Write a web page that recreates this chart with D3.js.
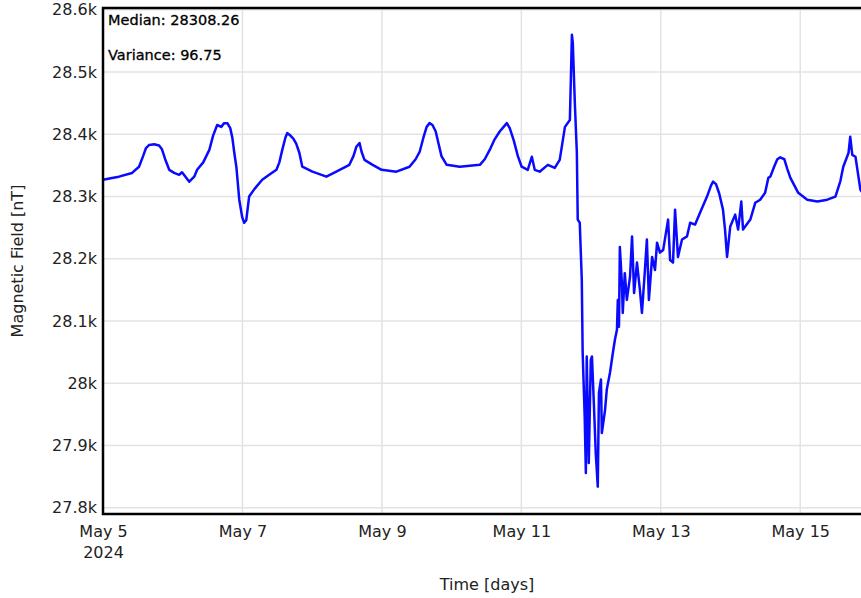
<!DOCTYPE html>
<html>
<head>
<meta charset="utf-8">
<script src="https://cdn.jsdelivr.net/npm/d3@7"></script>
<style>
  body { margin: 0; background: #fff; overflow: hidden; }
  svg { display: block; font-family: "DejaVu Sans", Verdana, sans-serif; }
</style>
</head>
<body>
<div id="chart"></div>
<script>
// --- Data (hours after May 5 2024 00:00 UTC, field in nT) ---
const startDate = Date.UTC(2024, 4, 5);
const hours = [
  0, 3.1, 5.5, 10.0, 12.4, 13.8, 14.8, 15.9, 17.6, 19.3, 20.3, 21.4, 22.8,
  24.5, 26.2, 27.2, 29.7, 31.4, 32.4, 34.5, 36.6, 37.9, 39.3, 40.7, 41.7, 42.8,
  43.8, 44.5, 45.2, 45.9, 46.9, 47.9, 48.6, 49.3, 50.3, 52.1, 54.8, 57.2, 59.7,
  60.7, 61.7, 62.8, 63.4, 64.5, 65.5, 66.5, 67.6, 68.6, 72.1, 76.9, 80.3, 84.8,
  86.2, 87.2, 88.3, 89.0, 90.0, 92.8, 95.9, 101.0, 105.5, 107.6, 109.0, 110.3, 111.4,
  112.4, 113.4, 114.5, 115.5, 116.5, 118.3, 122.8, 129.7, 131.4, 133.1, 134.8, 136.6, 137.9,
  139.0, 140.0, 141.4, 142.8, 144.1, 146.2, 147.6, 148.6, 150.3, 153.1, 155.5, 157.2, 159.0,
  160.7, 161.4, 161.7, 162.4, 163.1, 163.4, 164.1, 164.8, 165.1, 165.8, 166.2, 166.5, 167.2,
  167.9, 168.3, 168.9, 169.6, 170.3, 170.7, 171.4, 171.7, 172.8, 173.4, 174.5, 175.5, 176.2,
  176.9, 177.2, 177.6, 177.9, 178.6, 178.9, 179.6, 180.3, 181.4, 182.1, 182.8, 183.8, 184.8,
  185.5, 186.5, 187.2, 187.9, 189.0, 190.0, 190.7, 191.7, 192.8, 194.5, 195.2, 196.2, 196.9,
  197.9, 199.3, 201.0, 202.1, 203.8, 205.5, 207.9, 209.3, 210.0, 211.0, 212.1, 213.4, 214.1,
  214.8, 215.9, 217.6, 218.6, 219.7, 220.3, 222.8, 224.5, 226.2, 227.9, 229.0, 229.7, 231.0,
  232.1, 233.1, 234.5, 235.5, 236.6, 239.3, 242.4, 245.9, 249.3, 252.1, 253.8, 254.8, 256.6,
  257.2, 257.9, 259.0, 260.7, 264.0
];
const field = [
  28327, 28330, 28332, 28338, 28348, 28365, 28378, 28383, 28384, 28382, 28376, 28360, 28343,
  28338, 28335, 28339, 28324, 28332, 28343, 28355, 28375, 28398, 28415, 28412, 28418, 28418,
  28410, 28395, 28370, 28348, 28295, 28267, 28258, 28262, 28300, 28312, 28327, 28335, 28343,
  28355, 28375, 28395, 28402, 28398, 28393, 28385, 28370, 28348, 28340, 28332, 28340, 28351,
  28365, 28380, 28386, 28372, 28359, 28351, 28343, 28340, 28348, 28360, 28372, 28395, 28412,
  28418, 28415, 28405, 28385, 28365, 28351, 28348, 28351, 28360, 28375, 28392, 28405, 28412,
  28418, 28410, 28390, 28365, 28348, 28343, 28364, 28343, 28340, 28351, 28346, 28359, 28412,
  28423, 28560, 28547, 28451, 28370, 28263, 28258, 28166, 28049, 27946, 27856, 28043, 27872,
  28038, 28043, 27974, 27888, 27834, 27985, 28006, 27920, 27957, 27990, 28017, 28049, 28070,
  28086, 28134, 28091, 28219, 28161, 28113, 28177, 28134, 28171, 28236, 28145, 28194, 28150,
  28113, 28180, 28231, 28134, 28203, 28182, 28226, 28210, 28214, 28263, 28198, 28194, 28279,
  28203, 28231, 28236, 28258, 28255, 28274, 28300, 28318, 28324, 28320, 28305, 28279, 28247,
  28203, 28252, 28271, 28247, 28292, 28247, 28263, 28290, 28295, 28306, 28330, 28332, 28348,
  28360, 28363, 28360, 28345, 28330, 28306, 28295, 28292, 28295, 28300, 28325, 28348, 28370,
  28396, 28367, 28364, 28311, 28290
];
const yTicks = [27800, 27900, 28000, 28100, 28200, 28300, 28400, 28500, 28600];
const medianText = "Median: 28308.26";
const varianceText = "Variance: 96.75";

const data = hours.map((h, i) => ({ t: new Date(startDate + h * 3600e3), v: field[i] }));

// --- Layout ---
const W = 861, H = 598;
const margin = { left: 103, top: 8 };
const plotW = 767, plotH = 506;

const svg = d3.select("#chart").append("svg")
  .attr("width", W)
  .attr("height", H);

const x = d3.scaleUtc()
  .domain([new Date(startDate), new Date(startDate + 11 * 864e5)])
  .range([margin.left, margin.left + plotW]);

const y = d3.scaleLinear()
  .domain([27790, 28603])
  .range([margin.top + plotH, margin.top]);

// --- Grid ---
const grid = svg.append("g").attr("stroke", "#e3e3e3").attr("stroke-width", 1.5);
grid.selectAll("line.h")
  .data(yTicks)
  .enter().append("line")
  .attr("class", "h")
  .attr("x1", margin.left).attr("x2", margin.left + plotW)
  .attr("y1", d => y(d)).attr("y2", d => y(d));

const xTicks = x.ticks(d3.utcDay.every(2));
grid.selectAll("line.v")
  .data(xTicks.slice(1))
  .enter().append("line")
  .attr("class", "v")
  .attr("y1", margin.top).attr("y2", margin.top + plotH)
  .attr("x1", d => x(d)).attr("x2", d => x(d));

// --- Line ---
svg.append("clipPath").attr("id", "clip")
  .append("rect")
  .attr("x", margin.left).attr("y", margin.top)
  .attr("width", plotW).attr("height", plotH);

const line = d3.line()
  .x(d => x(d.t))
  .y(d => y(d.v));

svg.append("path")
  .datum(data)
  .attr("clip-path", "url(#clip)")
  .attr("fill", "none")
  .attr("stroke", "#0a0aff")
  .attr("stroke-width", 2.5)
  .attr("stroke-linejoin", "round")
  .attr("d", line);

// --- Border ---
svg.append("rect")
  .attr("x", margin.left).attr("y", margin.top)
  .attr("width", plotW).attr("height", plotH)
  .attr("fill", "none")
  .attr("stroke", "#000")
  .attr("stroke-width", 2.5);

// --- Axes ---
const yAxis = svg.append("g")
  .attr("transform", `translate(${margin.left},0)`)
  .call(d3.axisLeft(y).tickValues(yTicks).tickSize(0).tickPadding(6).tickFormat(d3.format("~s")));
yAxis.select(".domain").remove();
yAxis.selectAll("text")
  .attr("font-family", "DejaVu Sans, sans-serif")
  .attr("font-size", 16)
  .attr("fill", "#222");

const fmtDay = d3.utcFormat("%b %-d");
const xAxis = svg.append("g")
  .attr("transform", `translate(0,${margin.top + plotH})`)
  .call(d3.axisBottom(x).tickValues(xTicks).tickSize(0).tickPadding(8).tickFormat(""));
xAxis.select(".domain").remove();
xAxis.selectAll(".tick").each(function(d, i) {
  const t = d3.select(this).select("text")
    .attr("font-family", "DejaVu Sans, sans-serif")
    .attr("font-size", 16)
    .attr("fill", "#222")
    .attr("dy", null)
    .attr("y", 23);
  t.append("tspan").attr("x", 0).text(fmtDay(d));
  if (i === 0) t.append("tspan").attr("x", 0).attr("dy", 21).text(d3.utcFormat("%Y")(d));
});

// --- Axis titles ---
svg.append("text")
  .attr("x", 487).attr("y", 590)
  .attr("text-anchor", "middle")
  .attr("font-size", 16)
  .attr("fill", "#222")
  .text("Time [days]");

svg.append("text")
  .attr("transform", "translate(23,261) rotate(-90)")
  .attr("text-anchor", "middle")
  .attr("font-size", 16)
  .attr("fill", "#222")
  .text("Magnetic Field [nT]");

// --- Annotations ---
svg.append("text")
  .attr("x", 108).attr("y", 25)
  .attr("font-size", 14.5)
  .attr("fill", "#000")
  .attr("stroke", "#000")
  .attr("stroke-width", 0.3)
  .text(medianText);

svg.append("text")
  .attr("x", 108).attr("y", 60)
  .attr("font-size", 14.5)
  .attr("fill", "#000")
  .attr("stroke", "#000")
  .attr("stroke-width", 0.3)
  .text(varianceText);
</script>
</body>
</html>
